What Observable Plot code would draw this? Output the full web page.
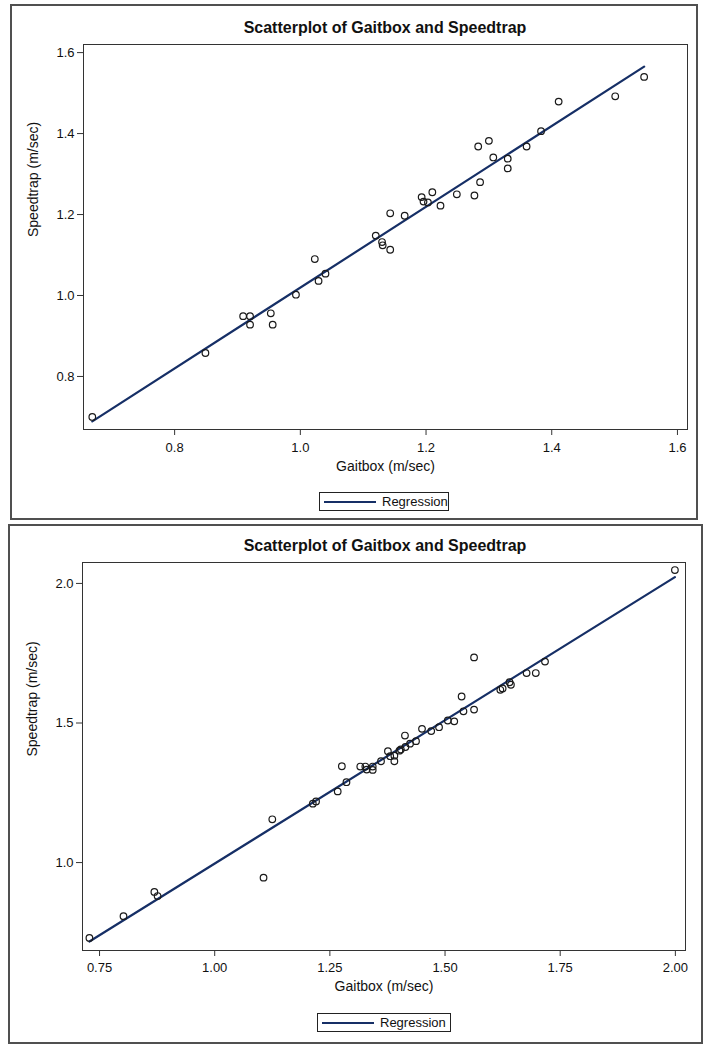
<!DOCTYPE html>
<html>
<head>
<meta charset="utf-8">
<script src="https://cdn.jsdelivr.net/npm/d3@7"></script>
<script src="https://cdn.jsdelivr.net/npm/@observablehq/plot@0.6"></script>
<style>
  body { margin: 0; background: #fff; font-family: "Liberation Sans", Arial, sans-serif; }
  #page { position: relative; width: 710px; height: 1050px; overflow: hidden; }
  .panel { position: absolute; border: 2px solid #505050; box-sizing: border-box; }
  .title { position: absolute; left: 185px; width: 400px; text-align: center; font-weight: bold; font-size: 16px; line-height: 18px; color: #111; }
  .chart { position: absolute; left: 0; }
  .legend { position: absolute; height: 19px; border: 1px solid #222; box-sizing: border-box; background: #fff; }
  .legend .sw { position: absolute; left: 4px; top: 7.5px; width: 52px; height: 2px; background: #162f66; }
  .legend .lt { position: absolute; left: 62px; top: 0; font-size: 13px; line-height: 17px; color: #111; }
</style>
</head>
<body>
<div id="page">
  <div class="panel" style="left:10px;top:4px;width:688px;height:516px;"></div>
  <div class="panel" style="left:8px;top:524px;width:695px;height:520px;"></div>
  <div class="title" style="top:19px;">Scatterplot of Gaitbox and Speedtrap</div>
  <div class="title" style="top:537px;">Scatterplot of Gaitbox and Speedtrap</div>
  <div class="chart" id="c1" style="top:38px;"></div>
  <div class="chart" id="c2" style="top:556px;"></div>
  <div class="legend" style="left:319px;top:492px;width:130px;"><div class="sw"></div><div class="lt">Regression</div></div>
  <div class="legend" style="left:317px;top:1013px;width:134px;"><div class="sw"></div><div class="lt">Regression</div></div>
</div>
<script>
// Panel 1 data
const gait1 = [0.669, 0.849, 0.909, 0.920, 0.920, 0.953, 0.956, 0.993, 1.023, 1.029, 1.040, 1.120, 1.130, 1.131, 1.143, 1.143, 1.166, 1.193, 1.196, 1.203, 1.210, 1.223, 1.249, 1.277, 1.286, 1.283, 1.300, 1.307, 1.330, 1.330, 1.360, 1.383, 1.411, 1.501, 1.547];
const speed1 = [0.700, 0.858, 0.949, 0.949, 0.928, 0.956, 0.928, 1.002, 1.090, 1.036, 1.054, 1.148, 1.132, 1.124, 1.113, 1.203, 1.197, 1.243, 1.232, 1.230, 1.255, 1.222, 1.250, 1.247, 1.280, 1.368, 1.382, 1.341, 1.338, 1.314, 1.368, 1.406, 1.479, 1.492, 1.540];
const xTicks1 = [0.8, 1.0, 1.2, 1.4, 1.6];
const yTicks1 = [0.8, 1.0, 1.2, 1.4, 1.6];

// Panel 2 data
const gait2 = [0.728, 0.802, 0.869, 0.876, 1.106, 1.125, 1.213, 1.220, 1.267, 1.276, 1.286, 1.316, 1.327, 1.330, 1.343, 1.343, 1.361, 1.376, 1.381, 1.390, 1.390, 1.401, 1.404, 1.413, 1.414, 1.424, 1.437, 1.450, 1.470, 1.487, 1.506, 1.520, 1.536, 1.540, 1.563, 1.563, 1.620, 1.625, 1.640, 1.643, 1.677, 1.697, 1.717, 1.999];
const speed2 = [0.730, 0.808, 0.895, 0.880, 0.946, 1.155, 1.211, 1.219, 1.255, 1.345, 1.288, 1.344, 1.344, 1.333, 1.332, 1.344, 1.363, 1.399, 1.381, 1.363, 1.383, 1.401, 1.405, 1.455, 1.414, 1.426, 1.435, 1.479, 1.471, 1.485, 1.509, 1.506, 1.595, 1.542, 1.548, 1.735, 1.619, 1.624, 1.646, 1.637, 1.679, 1.679, 1.720, 2.048];
const xTicks2 = [0.75, 1.00, 1.25, 1.50, 1.75, 2.00];
const yTicks2 = [1.0, 1.5, 2.0];

const xLabel = "Gaitbox (m/sec)";
const yLabel = "Speedtrap (m/sec)";
const lineColor = "#162f66";

function makeChart(gait, speed, opts) {
  const data = gait.map((g, i) => ({ g, s: speed[i] }));
  return Plot.plot({
    width: 710,
    height: opts.height,
    marginTop: 6,
    marginBottom: opts.mb,
    marginLeft: opts.ml,
    marginRight: opts.mr,
    x: { domain: opts.xd, label: null },
    y: { domain: opts.yd, label: null },
    style: { fontFamily: '"Liberation Sans", Arial, sans-serif', fontSize: "13px", color: "#111", background: "transparent", overflow: "visible" },
    marks: [
      Plot.frame({ stroke: "#333", strokeWidth: 1 }),
      Plot.axisX({ ticks: opts.xt, tickFormat: d3.format(opts.xf), tickSize: 6, tickPadding: opts.xpad, label: null, stroke: "#333" }),
      Plot.axisY({ ticks: opts.yt, tickFormat: d3.format(".1f"), tickSize: 6, tickPadding: 3, label: null, stroke: "#333" }),
      Plot.linearRegressionY(data, { x: "g", y: "s", ci: 0, stroke: lineColor, strokeWidth: 2.2 }),
      Plot.dot(data, { x: "g", y: "s", r: 3.3, stroke: "#1a1a1a", strokeWidth: 1.2, fill: "none" }),
      Plot.text([xLabel], { frameAnchor: "bottom", dy: opts.xdy, fontSize: 14, fill: "#111" }),
      Plot.text([yLabel], { frameAnchor: "left", dx: -50, rotate: -90, fontSize: 14, fill: "#111" })
    ]
  });
}

document.getElementById("c1").appendChild(makeChart(gait1, speed1, {
  height: 442, mb: 51, ml: 83, mr: 23,
  xd: [0.655, 1.616], yd: [0.669, 1.62],
  xt: xTicks1, yt: yTicks1, xf: ".1f", xpad: 7, xdy: 41
}));
document.getElementById("c2").appendChild(makeChart(gait2, speed2, {
  height: 444, mb: 50, ml: 82, mr: 25,
  xd: [0.713, 2.022], yd: [0.685, 2.075],
  xt: xTicks2, yt: yTicks2, xf: ".2f", xpad: 6, xdy: 40
}));
</script>
</body>
</html>
